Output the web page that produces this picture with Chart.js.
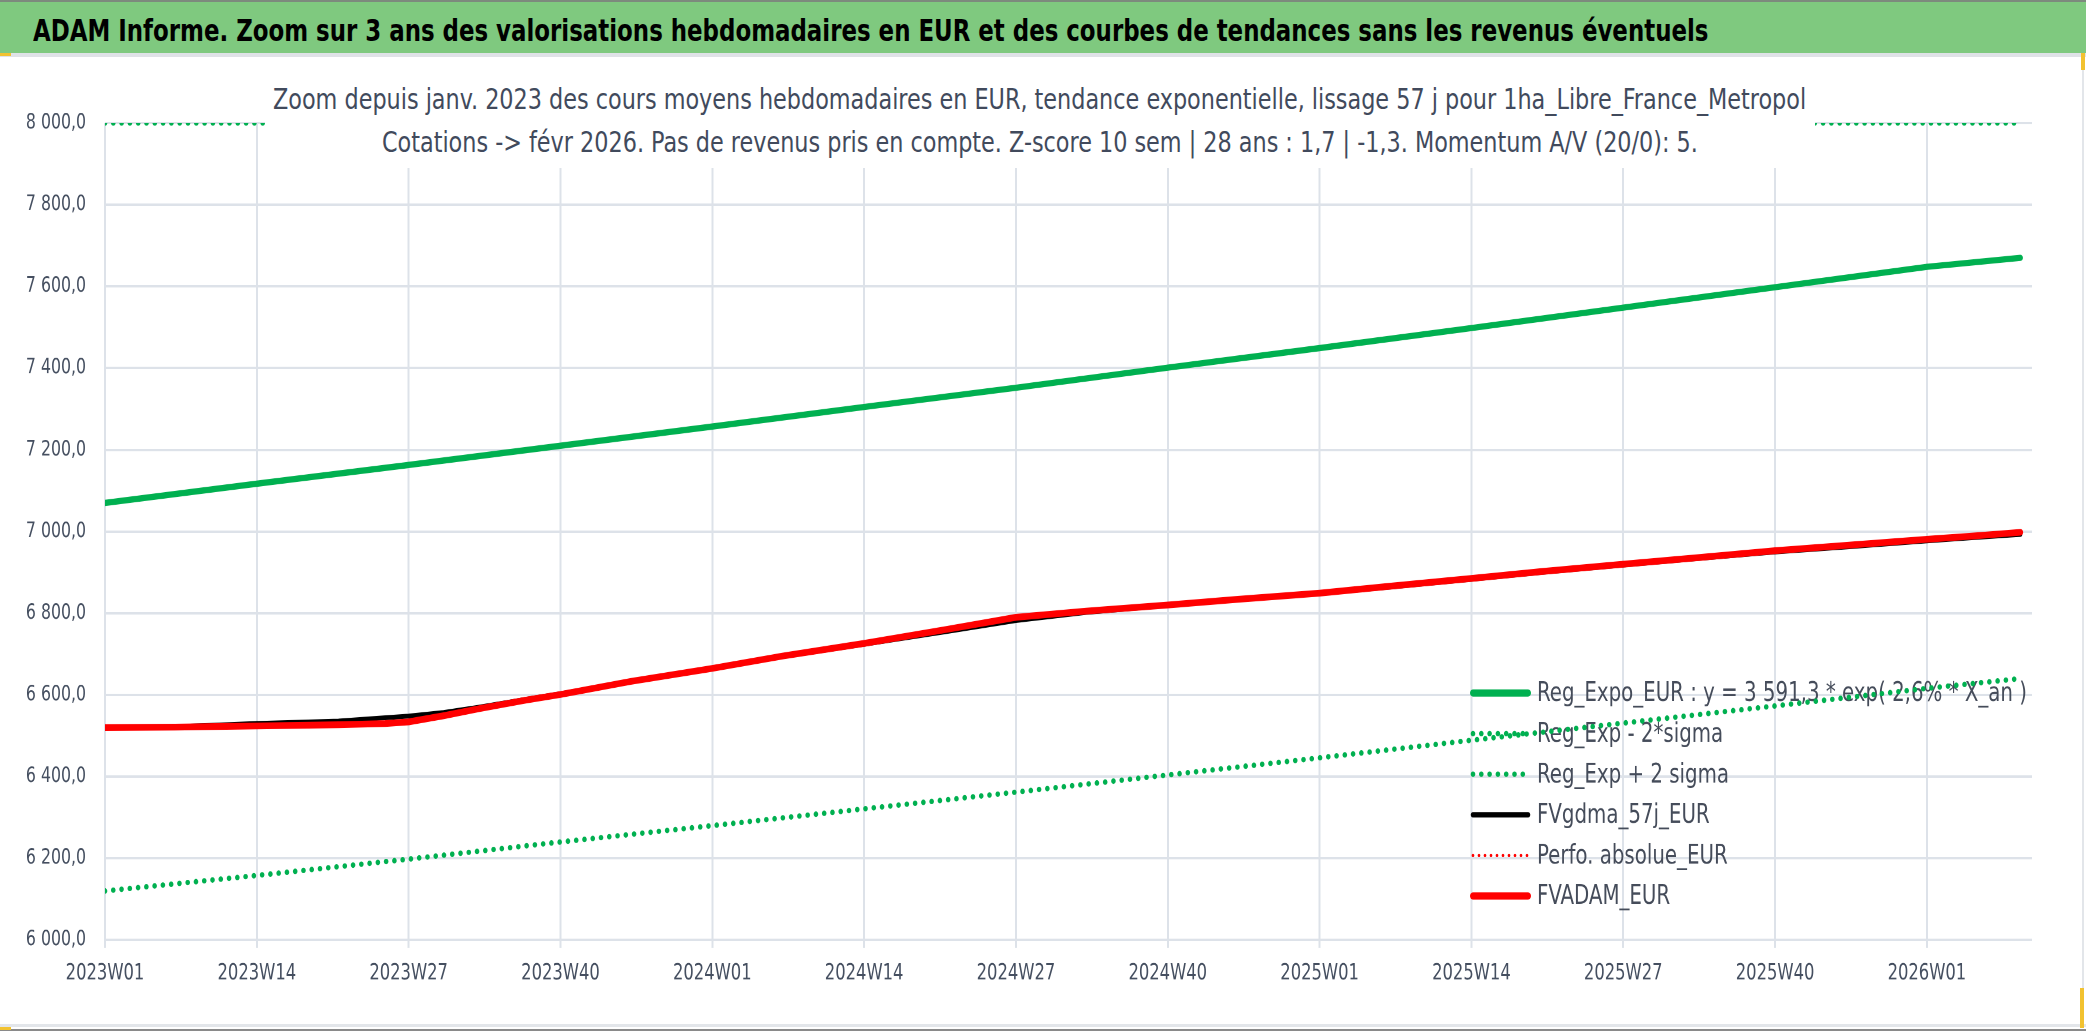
<!DOCTYPE html>
<html lang="fr">
<head>
<meta charset="utf-8">
<title>ADAM Informe - zoom 3 ans EUR</title>
<script src="https://cdn.jsdelivr.net/npm/chart.js@4.4.1/dist/chart.umd.min.js"></script>
<style>
    html, body { margin: 0; padding: 0; background: #ffffff; }
    #page {
        position: relative; width: 2086px; height: 1031px; overflow: hidden; background: #ffffff;
        font-family: "DejaVu Sans Condensed", "DejaVu Sans", sans-serif; font-stretch: condensed;
    }
    /* the sheet picture is taller than wide-normal: the chart is drawn 859 high and stretched */
    #chart {
        position: absolute; left: 0; top: 0; width: 2086px; height: 859px;
        transform-origin: 0 0; transform: scaleY(1.20023);
    }
    #band {
        position: absolute; left: 0; top: 0; width: 2086px; height: 53px; z-index: 2;
        background: #7fc97f; border-top: 2px solid #7d8a7d; box-sizing: border-box;
    }
    #band-title {
        position: absolute; left: 33px; top: 13px; display: inline-block; white-space: nowrap;
        font-size: 24.6px; line-height: 1.164; font-weight: bold; color: #000000;
        transform-origin: 0 0;
    }
    #band-rule { position: absolute; left: 0; top: 53px; width: 2086px; height: 4px; background: #dfe2e7; z-index: 2; }
    #subtitle {
        position: absolute; left: 265px; top: 78px; width: 1550px; height: 90px; z-index: 2;
        background: #ffffff; color: #414a5c; font-size: 23.7px; text-align: center;
    }
    .sub-line { position: absolute; left: 0; width: 100%; line-height: 1.164; white-space: nowrap; }
    .sub-line span { display: inline-block; line-height: 1.164; transform-origin: 50% 0; }
    #sub1 { top: 5.6px; }
    #sub2 { top: 48.6px; }
    .mark { position: absolute; background: #f2c230; z-index: 3; }
    .rule { position: absolute; z-index: 3; }
</style>
</head>
<body>
<div id="page">
    <canvas id="chart" width="2086" height="859"></canvas>
    <div id="band"><span id="band-title">ADAM Informe. Zoom sur 3 ans des valorisations hebdomadaires en EUR et des courbes de tendances sans les revenus éventuels</span></div>
    <div id="band-rule"></div>
    <div id="subtitle">
        <div class="sub-line" id="sub1"><span>Zoom depuis janv. 2023 des cours moyens hebdomadaires en EUR, tendance exponentielle, lissage 57 j pour 1ha_Libre_France_Metropol</span></div>
        <div class="sub-line" id="sub2"><span>Cotations -&gt; févr 2026. Pas de revenus pris en compte. Z-score 10 sem | 28 ans : 1,7 | -1,3. Momentum A/V (20/0): 5.</span></div>
    </div>
    <div class="rule" style="left:0;top:1024px;width:2086px;height:3px;background:#e3e6ea"></div>
    <div class="rule" style="left:0;top:1029px;width:2086px;height:2px;background:#8a8a8a"></div>
    <div class="rule" style="left:2082px;top:57px;width:2px;height:970px;background:#e3e6ea"></div>
    <div class="mark" style="left:0;top:53px;width:11px;height:3px"></div>
    <div class="mark" style="left:2081px;top:53px;width:4px;height:17px"></div>
    <div class="mark" style="left:0;top:1027px;width:11px;height:3px"></div>
    <div class="mark" style="left:2080px;top:988px;width:4px;height:40px"></div>
</div>
<script>
// x axis: week 0 = 2023W01, a labelled tick every 13 weeks
const tickLabels = ["2023W01", "2023W14", "2023W27", "2023W40", "2024W01", "2024W14", "2024W27",
                    "2024W40", "2025W01", "2025W14", "2025W27", "2025W40", "2026W01"];
const tickStep = 13;
const lastWeek = 165;   // axis ends one slot after the last quote (2026W09)

const seriesNames = ["Reg_Expo_EUR : y = 3 591,3 * exp( 2,6% * X_an )", "Reg_Exp - 2*sigma",
                     "Reg_Exp + 2 sigma", "FVgdma_57j_EUR", "Perfo. absolue_EUR", "FVADAM_EUR"];

// exponential trend and lower band, read every 13 weeks plus the last quote week
const trendWeeks = [0, 13, 26, 39, 52, 65, 78, 91, 104, 117, 130, 143, 156, 164];
const regExpo = [7070, 7117, 7163, 7210, 7257, 7305, 7352, 7401, 7449, 7498, 7548, 7598, 7648, 7670];
const regMinus2Sigma = [6120, 6158, 6198, 6240, 6280, 6321, 6362, 6404, 6446, 6489, 6531, 6573, 6616, 6640];

// upper band is above the axis max, it shows along the 8 000 line
const upperWeeks = [0, 164];
const regPlus2Sigma = [8000, 8000];

// weekly valuations (EUR)
const quoteWeeks = [0, 6, 13, 20, 24, 26, 29, 32, 36, 39, 45, 52, 58, 65, 72, 78, 84, 91, 97, 104,
                    110, 117, 123, 130, 136, 143, 149, 156, 160, 164];
const fvAdam = [6520, 6521, 6524, 6527, 6530, 6534, 6549, 6566, 6587, 6601, 6633, 6665, 6695, 6726, 6760,
                6790, 6805, 6820, 6834, 6849, 6866, 6885, 6902, 6920, 6935, 6953, 6966, 6981, 6989, 6998];
const fvGdma = [6520, 6522, 6530, 6536, 6544, 6548, 6557, 6570, 6589, 6603, 6632, 6664, 6694, 6724, 6755,
                6782, 6802, 6819, 6833, 6848, 6864, 6883, 6900, 6918, 6933, 6950, 6962, 6977, 6985, 6993];
const perfoAbsolue = [];   // not visible, hidden under FVADAM

const yMin = 6000;
const yMax = 8000;
const yStep = 200;

(function () {
    "use strict";

    window.addEventListener("load", init);

    const FONT = "'DejaVu Sans Condensed', 'DejaVu Sans', sans-serif";
    const STRETCH = 1031 / 859;     // vertical stretch of the canvas (see css)
    const AXIS_TEXT = "#454f60";
    const GRID = "#dde2e9";
    const GREEN = "#00b050";
    const RED = "#ff0000";

    /**
     * Setup function called when page loads
     */
    function init() {
        let title = id("band-title");
        title.style.transform = "scale(" + (1675 / title.offsetWidth) + "," + STRETCH + ")";

        let sub1 = document.querySelector("#sub1 span");
        let sub2 = document.querySelector("#sub2 span");
        let k = 1533 / sub1.offsetWidth;
        sub1.style.transform = "scale(" + k + "," + STRETCH + ")";
        sub2.style.transform = "scale(" + k + "," + STRETCH + ")";

        setupGraph();
    }

    /**
     * Page pixels (vertical) -> canvas units before the stretch
     */
    function v(px) {
        return px / STRETCH;
    }

    /**
     * "8 000,0" style of the y axis
     */
    function formatValue(val) {
        return String(Math.round(val)).replace(/\B(?=(\d{3})+(?!\d))/g, " ") + ",0";
    }

    function toPoints(weeks, values) {
        return values.map((val, i) => ({ x: weeks[i], y: val }));
    }

    /**
     * Legend drawn inside the plot, under the lines (as in the source sheet)
     */
    const insideLegend = {
        id: "insideLegend",
        beforeDatasetsDraw(chart, args, opts) {
            let ctx = chart.ctx;
            ctx.save();
            ctx.font = opts.fontSize + "px " + FONT;
            ctx.textBaseline = "middle";
            chart.data.datasets.forEach((ds, i) => {
                let y = opts.top + i * opts.row;
                ctx.beginPath();
                ctx.strokeStyle = ds.borderColor;
                ctx.lineWidth = ds.legendWidth || ds.borderWidth;
                ctx.lineCap = ds.borderCapStyle || "butt";
                ctx.setLineDash(ds.borderDash || []);
                ctx.moveTo(opts.left + 3, y);
                ctx.lineTo(opts.left + opts.sample - 3, y);
                ctx.stroke();
                ctx.setLineDash([]);
                ctx.fillStyle = opts.color;
                ctx.fillText(ds.label, opts.left + opts.sample + opts.gap, y + 1);
            });
            ctx.restore();
        }
    };

    /**
     * Sets up and displays graph using chart.js
     */
    function setupGraph() {
        Chart.defaults.font.family = FONT;
        Chart.defaults.color = AXIS_TEXT;

        let common = { pointRadius: 0, tension: 0, fill: false, borderJoinStyle: "round" };

        new Chart(id("chart"), {
            type: "line",
            data: {
                datasets: [
                    Object.assign({}, common, {
                        label: seriesNames[0], data: toPoints(trendWeeks, regExpo),
                        borderColor: GREEN, borderWidth: 5.2, legendWidth: 6, borderCapStyle: "round", order: 5
                    }),
                    Object.assign({}, common, {
                        label: seriesNames[1], data: toPoints(trendWeeks, regMinus2Sigma),
                        borderColor: GREEN, borderWidth: 4.6, borderDash: [0, 8.3], borderCapStyle: "round", order: 4
                    }),
                    Object.assign({}, common, {
                        label: seriesNames[2], data: toPoints(upperWeeks, regPlus2Sigma),
                        borderColor: GREEN, borderWidth: 4.6, borderDash: [0, 8.3], borderCapStyle: "round", order: 3
                    }),
                    Object.assign({}, common, {
                        label: seriesNames[3], data: toPoints(quoteWeeks, fvGdma),
                        borderColor: "#000000", borderWidth: 4, legendWidth: 4.5, borderCapStyle: "round", order: 2
                    }),
                    Object.assign({}, common, {
                        label: seriesNames[4], data: toPoints(quoteWeeks, perfoAbsolue),
                        borderColor: RED, borderWidth: 2.6, borderDash: [0, 6], borderCapStyle: "round", order: 1
                    }),
                    Object.assign({}, common, {
                        label: seriesNames[5], data: toPoints(quoteWeeks, fvAdam),
                        borderColor: RED, borderWidth: 5.6, legendWidth: 6, borderCapStyle: "round", order: 0
                    })
                ]
            },
            options: {
                responsive: false,
                devicePixelRatio: 2,
                animation: false,
                events: [],
                layout: { padding: { top: v(123), right: 54, bottom: 0, left: 0 } },
                plugins: {
                    legend: { display: false },
                    tooltip: { enabled: false },
                    insideLegend: { left: 1470, top: v(693), row: v(40.6), sample: 61, gap: 6, fontSize: 22, color: "#454c5a" }
                },
                scales: {
                    x: {
                        type: "linear",
                        min: 0,
                        max: lastWeek,
                        afterBuildTicks: scale => {
                            scale.ticks = tickLabels.map((lbl, i) => ({ value: i * tickStep }));
                        },
                        afterFit: scale => { scale.height = v(1031 - 940); },
                        border: { display: false },
                        grid: { color: GRID, lineWidth: 2, drawTicks: true, tickLength: v(8) },
                        ticks: {
                            autoSkip: false,
                            maxRotation: 0,
                            padding: 10.5,
                            color: AXIS_TEXT,
                            font: { size: 18.2 },
                            callback: (val, i) => tickLabels[i]
                        }
                    },
                    y: {
                        min: yMin,
                        max: yMax,
                        afterFit: scale => { scale.width = 105; },
                        border: { display: false },
                        grid: { color: GRID, lineWidth: 2, drawTicks: false },
                        ticks: {
                            stepSize: yStep,
                            padding: 19,
                            color: AXIS_TEXT,
                            font: { size: 17.5 },
                            callback: val => formatValue(val)
                        }
                    }
                }
            },
            plugins: [insideLegend]
        });
    }

    /**
     * Alias for document.getElementById()
     */
    function id(idstr) {
        return document.getElementById(idstr);
    }
})();
</script>
</body>
</html>
